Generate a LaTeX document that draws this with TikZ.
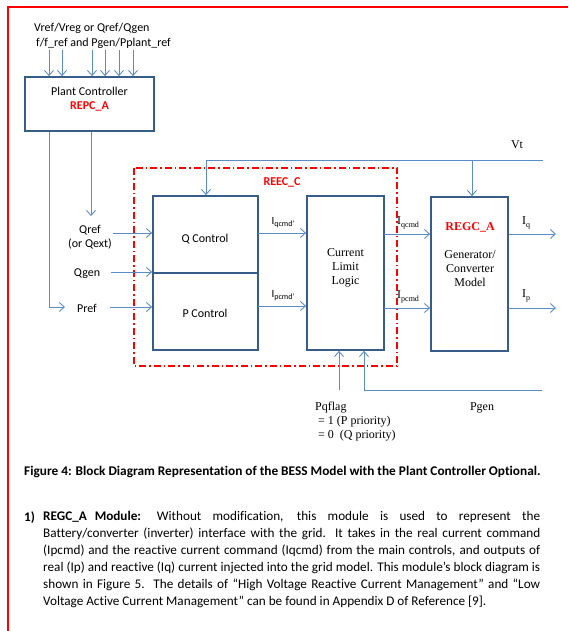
\documentclass[tikz,border=0pt]{standalone}
\usepackage{fontspec}
\setmainfont[Ligatures=NoCommon]{Carlito}
\newfontfamily\serif{Liberation Serif}
\usetikzlibrary{arrows.meta}
\definecolor{lineblue}{RGB}{91,139,201}
\definecolor{boxblue}{RGB}{56,93,138}
\definecolor{brightred}{RGB}{255,0,0}
\tikzset{
  arr/.style={draw=lineblue, line width=0.9pt, -{Straight Barb[length=5pt,width=9pt]}},
  plain/.style={draw=lineblue, line width=0.9pt},
  blk/.style={draw=boxblue, line width=1.8pt, inner sep=0pt},
  lbl/.style={inner sep=0pt, font=\fontsize{12}{14}\selectfont},
  slbl/.style={inner sep=0pt, font=\fontsize{12}{14}\selectfont\serif},
}
\newcommand{\sub}[1]{\raisebox{-0.45ex}{\fontsize{8}{9}\selectfont #1}}
\newcommand{\jline}[1]{\makebox[497pt][s]{#1}}
\begin{document}
\begin{tikzpicture}[x=1pt,y=-1pt]
\useasboundingbox (0,0) rectangle (568,631);
% frame
\draw[brightred, line width=2pt] (568,7) -- (8,7) -- (8,631);

% plant controller
\node[blk, minimum width=129pt, minimum height=54pt] (pc) at (89.5,104) {};
\node[lbl] (pct) at (89.5,91) {Plant Controller};
\node[lbl, text=brightred, font=\fontsize{12}{14}\selectfont\bfseries] (pcr) at (89.5,106) {REPC\_A};
\node[lbl, anchor=west, align=left] (toptxt) at (34,36) {Vref/Vreg or Qref/Qgen\\[1pt]\hspace*{2pt}f/f\_ref and Pgen/Pplant\_ref};
\foreach \x [count=\i] in {49,62,92,105,119,133} {
  \coordinate (in\i) at (\x,50);
  \draw[arr] (in\i) -- (in\i |- pc.north);
}

% REEC_C frame
\draw[brightred, line width=1.3pt, dash pattern=on 7pt off 3pt on 1.5pt off 3pt] (134,168) rectangle (397,366);
\node[lbl, text=brightred, font=\fontsize{12}{14}\selectfont\bfseries] (reec) at (282,182) {REEC\_C};

% blocks
\node[blk, minimum width=105pt, minimum height=77pt] (qc) at (205.5,234.5) {};
\node[blk, minimum width=105pt, minimum height=77pt] (pcb) at (205.5,311.5) {};
\node[lbl] at (205,239) {Q Control};
\node[lbl] at (205,313) {P Control};
\node[blk, minimum width=77pt, minimum height=154pt] (cll) at (345.5,273) {};
\node[slbl, align=center] at (345.5,268) {Current\\Limit\\Logic};
\node[blk, minimum width=77pt, minimum height=154pt] (regc) at (469.5,274) {};
\node[slbl, text=brightred, font=\fontsize{12}{14}\selectfont\serif\bfseries] (regct) at (470,227) {REGC\_A};
\node[slbl, align=center] at (470,269) {Generator/\\Converter\\Model};

% left inputs
\coordinate (qtip) at (91,216);
\draw[arr] (pc.south -| qtip) -- (qtip);
\coordinate (pcorner) at (49,307);
\coordinate (ptip) at (65,307);
\draw[arr] (pc.south -| pcorner) -- (pcorner) -- (ptip);
\node[lbl, align=center] (qref) at (90,237) {Qref\\(or Qext)};
\node[lbl] (qgen) at (87,274) {Qgen};
\node[lbl] (pref) at (87,308) {Pref};
\coordinate (qs) at (113,233);
\coordinate (gs) at (111,272);
\coordinate (ps) at (110,307);
\draw[arr] (qs) -- (qs -| qc.west);
\draw[arr] (gs) -- (gs -| qc.west);
\draw[arr] (ps) -- (ps -| pcb.west);

% Vt
\coordinate (vtl) at (206,160);
\coordinate (vtr) at (543,160);
\coordinate (vtt) at (472,160);
\draw[arr] (vtr) -- (vtl) -- (vtl |- qc.north);
\draw[arr] (vtt) -- (vtt |- regc.north);
\node[slbl] (vt) at (517,145) {Vt};

% Q/P control to CLL
\coordinate (qy) at (258,233);
\coordinate (py) at (258,306);
\draw[arr] (qy) -- (qy -| cll.west);
\draw[arr] (py) -- (py -| cll.west);
\node[lbl, anchor=south, font=\fontsize{11}{12}\selectfont] at (283,228) {I\sub{qcmd'}};
\node[lbl, anchor=south, font=\fontsize{11}{12}\selectfont] at (283,301) {I\sub{pcmd'}};

% CLL to REGC
\coordinate (qy2) at (384,234);
\coordinate (py2) at (384,308);
\draw[arr] (qy2) -- (qy2 -| regc.west);
\draw[arr] (py2) -- (py2 -| regc.west);
\node[slbl, anchor=south west] at (397,229) {I\sub{qcmd}};
\node[slbl, anchor=south west] at (397,303) {I\sub{pcmd}};

% outputs
\coordinate (iq) at (556,234);
\coordinate (ip) at (556,308);
\draw[arr] (regc.east |- iq) -- (iq);
\draw[arr] (regc.east |- ip) -- (ip);
\node[slbl, anchor=south west] at (522,229) {I\sub{q}};
\node[slbl, anchor=south west] at (522,302) {I\sub{p}};

% bottom inputs
\coordinate (pq) at (339,390);
\draw[arr] (pq) -- (pq |- cll.south);
\coordinate (pg) at (542,390);
\coordinate (pgc) at (364,390);
\draw[arr] (pg) -- (pgc) -- (pgc |- cll.south);
\node[slbl, anchor=north west, align=left] (pqf) at (315,402) {Pqflag\\\hspace*{3pt}= 1 (P priority)\\\hspace*{3pt}= 0\ \ (Q priority)};
\node[slbl] (pgen) at (482,408) {Pgen};

% caption
\node[inner sep=0pt, anchor=west, font=\fontsize{13.3}{15}\selectfont\bfseries] (cap) at (24,472) {Figure 4: Block Diagram Representation of the BESS Model with the Plant Controller Optional.};

% paragraph
\node[inner sep=0pt, anchor=north west, font=\fontsize{13.2}{15}\selectfont\bfseries] (num) at (24,511) {1)};
\node[inner sep=0pt, anchor=north west, align=left, font=\fontsize{13.2}{17}\selectfont] (para) at (43,511) {%
\jline{\textbf{REGC\_A\hspace{0.6em}Module:}\hspace{1.2em}Without modification, this module is used to represent the}\\
\jline{Battery/converter (inverter) interface with the grid. It takes in the real current command}\\
\jline{(Ipcmd) and the reactive current command (Iqcmd) from the main controls, and outputs of}\\
\jline{real (Ip) and reactive (Iq) current injected into the grid model. This module’s block diagram is}\\
\jline{shown in Figure 5.\ \ The details of “High Voltage Reactive Current Management” and “Low}\\
Voltage Active Current Management” can be found in Appendix D of Reference [9].};
\end{tikzpicture}
\end{document}
